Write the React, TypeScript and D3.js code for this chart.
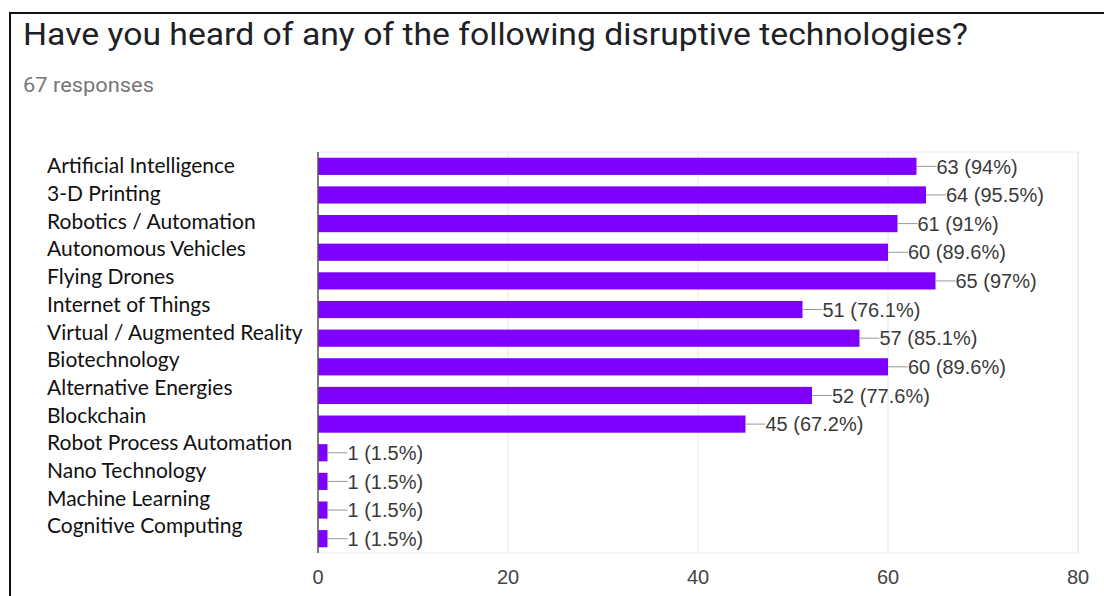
import React from "react";
import * as d3 from "d3";

const categories = [
  "Artificial Intelligence",
  "3-D Printing",
  "Robotics / Automation",
  "Autonomous Vehicles",
  "Flying Drones",
  "Internet of Things",
  "Virtual / Augmented Reality",
  "Biotechnology",
  "Alternative Energies",
  "Blockchain",
  "Robot Process Automation",
  "Nano Technology",
  "Machine Learning",
  "Cognitive Computing",
];
const counts = [63, 64, 61, 60, 65, 51, 57, 60, 52, 45, 1, 1, 1, 1];
const percents = ["94%", "95.5%", "91%", "89.6%", "97%", "76.1%", "85.1%", "89.6%", "77.6%", "67.2%", "1.5%", "1.5%", "1.5%", "1.5%"];
const xTicks = [0, 20, 40, 60, 80];
const title = "Have you heard of any of the following disruptive technologies?";
const subtitle = "67 responses";

const W = 1104;
const H = 596;
const plot = { left: 318, right: 1078, top: 152, bottom: 553 };
const SANS = "'Liberation Sans', Arial, sans-serif";

export default function App() {
  const x = d3.scaleLinear().domain([0, 80]).range([plot.left, plot.right]);
  const y = d3
    .scaleBand<string>()
    .domain(categories)
    .range([plot.top, plot.bottom])
    .paddingInner(0.4)
    .paddingOuter(0.2);
  const yLabel = d3.scalePoint<string>().domain(categories).range([166, 526]);
  const bw = y.bandwidth();

  return (
    <svg
      width={W}
      height={H}
      style={{ position: "absolute", left: 0, top: 0, background: "#fff" }}
    >
      <rect x={0} y={0} width={W} height={H} fill="#fff" />
      <path d={`M10,${H + 5} L10,13 L${W + 5},13`} fill="none" stroke="#111" strokeWidth={2} />
      <text
        x={23}
        y={45}
        fontFamily="Roboto"
        fontSize={31}
        fill="#202124"
        textLength={945}
        lengthAdjust="spacingAndGlyphs"
      >
        {title}
      </text>
      <text
        x={23}
        y={92}
        fontFamily="Roboto"
        fontSize={19.5}
        fill="#777"
        textLength={131}
        lengthAdjust="spacingAndGlyphs"
      >
        {subtitle}
      </text>

      {/* plot frame / gridlines */}
      <rect
        x={plot.left}
        y={plot.top}
        width={plot.right - plot.left}
        height={plot.bottom - plot.top}
        fill="none"
        stroke="#ebebeb"
        strokeWidth={1}
      />
      {xTicks.slice(1).map((t) => (
        <line key={t} x1={x(t)} x2={x(t)} y1={plot.top} y2={plot.bottom} stroke="#e6e6e6" strokeWidth={1} />
      ))}

      {categories.map((c, i) => {
        const y0 = y(c)!;
        const xe = x(counts[i]);
        const cy = y0 + bw / 2;
        return (
          <g key={c}>
            <rect x={plot.left} y={y0} width={xe - plot.left} height={bw} fill="#7f00ff" />
            <line x1={xe} x2={xe + 20} y1={cy} y2={cy} stroke="#999" strokeWidth={1} />
            <text
              x={xe + 20}
              y={cy}
              dy="0.36em"
              fontFamily={SANS}
              fontSize={20}
              fill="#3a3a3a"
            >
              {`${counts[i]} (${percents[i]})`}
            </text>
          </g>
        );
      })}

      <line x1={plot.left} x2={plot.left} y1={plot.top} y2={plot.bottom} stroke="#555" strokeWidth={1.5} />

      {xTicks.map((t) => (
        <text
          key={t}
          x={x(t)}
          y={584}
          textAnchor="middle"
          fontFamily={SANS}
          fontSize={20}
          fill="#444"
        >
          {t}
        </text>
      ))}

      {categories.map((c) => (
        <text
          key={c}
          x={47}
          y={yLabel(c)!}
          dy="0.35em"
          fontFamily="Lato"
          fontSize={21}
          fill="#111"
        >
          {c}
        </text>
      ))}
    </svg>
  );
}
